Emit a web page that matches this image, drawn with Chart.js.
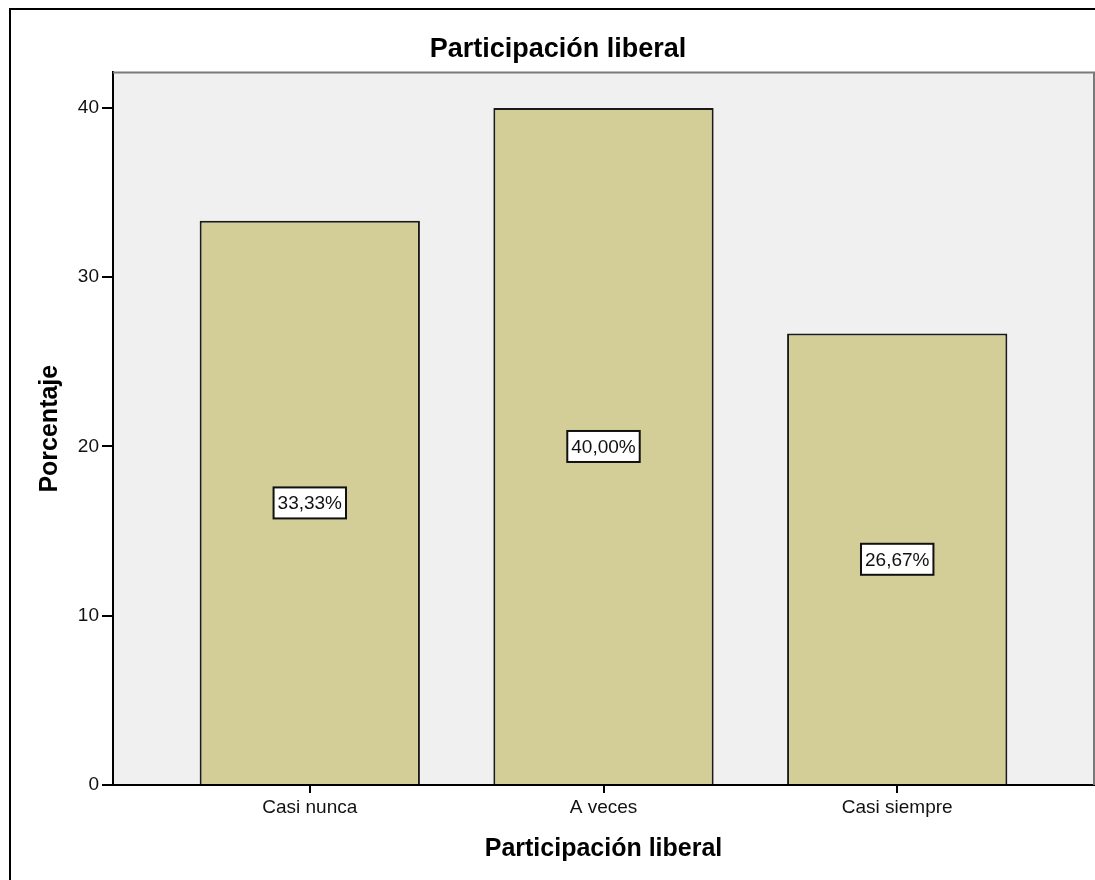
<!DOCTYPE html>
<html>
<head>
<meta charset="utf-8">
<script src="https://cdn.jsdelivr.net/npm/chart.js@4.4.1/dist/chart.umd.min.js"></script>
<style>
  html, body { margin: 0; padding: 0; background: #fff; }
  #wrap { width: 1095px; height: 880px; }
</style>
</head>
<body>
<div id="wrap"><canvas id="myChart" width="1095" height="880"></canvas></div>
<script>
const categories = ['Casi nunca', 'A veces', 'Casi siempre'];
const percentages = [33.33, 40.00, 26.67];
const yTicks = [0, 10, 20, 30, 40];

const fontFamily = "'Liberation Sans', Arial, sans-serif";

// fondo gris del área de trazado, bordes y marco exterior
const framePlugin = {
    id: 'frame',
    beforeDraw(chart) {
        const { ctx, chartArea: a } = chart;
        ctx.save();
        ctx.fillStyle = '#f0f0f0';
        ctx.fillRect(a.left, a.top, a.right - a.left, a.bottom - a.top);
        ctx.restore();
    },
    afterDraw(chart) {
        const { ctx, chartArea: a } = chart;
        ctx.save();
        ctx.strokeStyle = '#7a7a7a';
        ctx.lineWidth = 2;
        ctx.beginPath();
        ctx.moveTo(a.left, a.top);
        ctx.lineTo(a.right, a.top);
        ctx.lineTo(a.right, a.bottom);
        ctx.stroke();
        ctx.strokeStyle = '#000';
        ctx.beginPath();
        ctx.moveTo(10, 880);
        ctx.lineTo(10, 9);
        ctx.lineTo(1095, 9);
        ctx.stroke();
        ctx.restore();
    }
};

// etiquetas de porcentaje dentro de cada barra
const boxLabels = {
    id: 'boxLabels',
    afterDatasetsDraw(chart) {
        const { ctx } = chart;
        const meta = chart.getDatasetMeta(0);
        const yScale = chart.scales.y;
        ctx.save();
        ctx.font = '19px ' + fontFamily;
        ctx.textAlign = 'center';
        ctx.textBaseline = 'middle';
        meta.data.forEach((bar, i) => {
            const text = percentages[i].toFixed(2).replace('.', ',') + '%';
            const cy = yScale.getPixelForValue(percentages[i] / 2);
            const w = ctx.measureText(text).width + 8;
            const h = 31;
            ctx.fillStyle = '#fff';
            ctx.fillRect(bar.x - w / 2, cy - h / 2, w, h);
            ctx.strokeStyle = '#111';
            ctx.lineWidth = 2;
            ctx.strokeRect(bar.x - w / 2, cy - h / 2, w, h);
            ctx.fillStyle = '#111';
            ctx.fillText(text, bar.x, cy + 1);
        });
        ctx.restore();
    }
};

const data = {
    datasets: [{
        label: 'Porcentaje',
        data: percentages.map((v, i) => ({ x: i, y: v })),
        backgroundColor: '#d3ce97',
        borderColor: '#1a1a1a',
        borderWidth: 2,
        barPercentage: 0.75,
        categoryPercentage: 1.0
    }]
};

const config = {
    type: 'bar',
    data: data,
    options: {
        responsive: false,
        animation: false,
        layout: { padding: { left: 22, right: 1, top: 0, bottom: 0 } },
        plugins: {
            legend: { display: false },
            tooltip: { enabled: false },
            title: {
                display: true,
                text: 'Participación liberal',
                color: '#000',
                font: { family: fontFamily, size: 27, weight: 'bold', lineHeight: 1.2 },
                padding: { top: 33, bottom: 7 }
            }
        },
        scales: {
            x: {
                type: 'linear',
                offset: false,
                min: -0.67,
                max: 2.67,
                afterBuildTicks: scale => {
                    scale.ticks = categories.map((c, i) => ({ value: i }));
                },
                afterFit: scale => { scale.height = 95; },
                ticks: {
                    callback: value => categories[value],
                    color: '#111',
                    font: { family: fontFamily, size: 19 },
                    padding: 3,
                    maxRotation: 0,
                    autoSkip: false
                },
                grid: { offset: false, drawOnChartArea: false, drawTicks: true, tickLength: 8, color: '#000', lineWidth: 2 },
                border: { display: true, color: '#000', width: 2 },
                title: {
                    display: true,
                    text: 'Participación liberal',
                    color: '#000',
                    font: { family: fontFamily, size: 25, weight: 'bold', lineHeight: 1.2 },
                    padding: { top: 0, bottom: 16 }
                }
            },
            y: {
                min: 0,
                max: 42.1,
                afterBuildTicks: scale => {
                    scale.ticks = yTicks.map(v => ({ value: v }));
                },
                afterFit: scale => { scale.width = 91; },
                ticks: {
                    color: '#111',
                    font: { family: fontFamily, size: 19 },
                    padding: 3
                },
                grid: { drawOnChartArea: false, drawTicks: true, tickLength: 11, color: '#000', lineWidth: 2 },
                border: { display: true, color: '#000', width: 2 },
                title: {
                    display: true,
                    text: 'Porcentaje',
                    color: '#000',
                    font: { family: fontFamily, size: 25, weight: 'bold', lineHeight: 1.2 },
                    padding: { top: 13, bottom: 0 }
                }
            }
        }
    },
    plugins: [framePlugin, boxLabels]
};

const ctx = document.getElementById('myChart').getContext('2d');
const myChart = new Chart(ctx, config);
</script>
</body>
</html>
